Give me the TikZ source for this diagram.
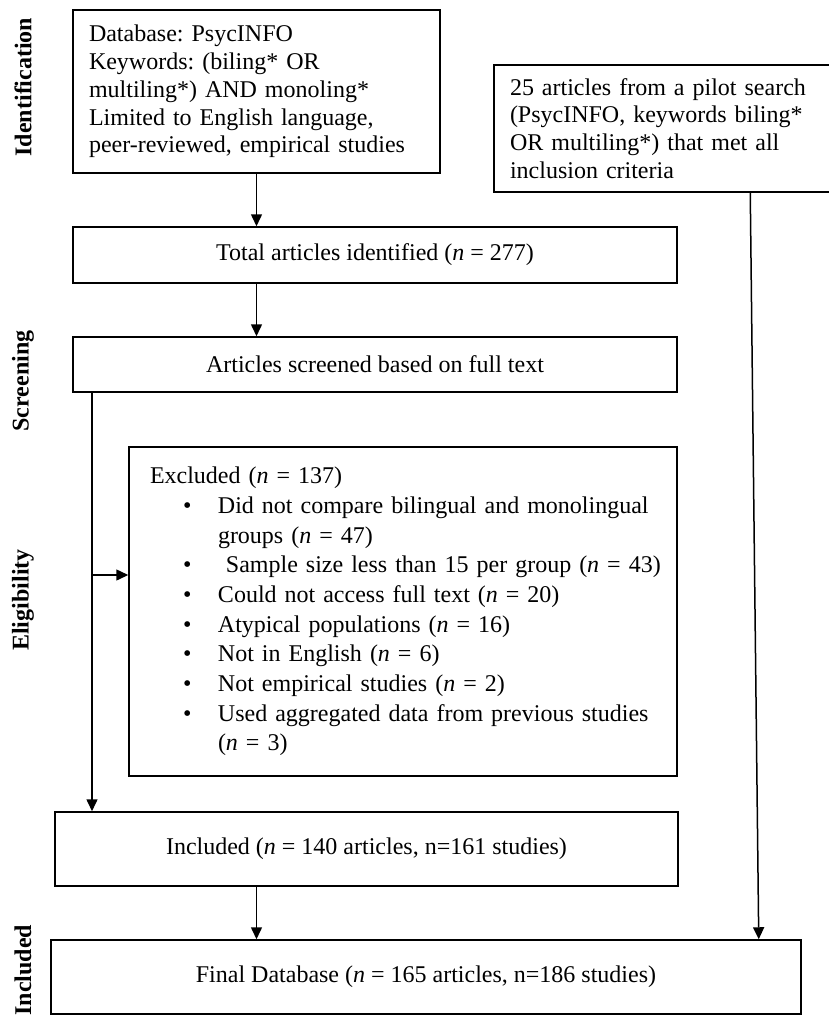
\documentclass[tikz,border=0pt]{standalone}
\usepackage{fontspec}
\setmainfont{Liberation Serif}
\usetikzlibrary{arrows.meta,calc}
\frenchspacing
\newcommand{\bul}[1]{\hspace*{50pt}\makebox[35pt][l]{\textbullet}#1}
\newcommand{\cont}[1]{\hspace*{85pt}#1}
\begin{document}
\begin{tikzpicture}[x=1pt,y=-1pt,
  box/.style={draw, line width=1.5pt, inner sep=0pt, font=\fontsize{24}{27.8}\selectfont\frenchspacing},
  conn/.style={line width=1.5pt, -{Triangle[length=12pt,width=11pt]}},
  stage/.style={rotate=90, font=\fontsize{24}{28}\selectfont\bfseries, inner sep=0pt}]
\useasboundingbox (0,0) rectangle (829,1015);

\node[box, minimum width=367, minimum height=163, inner xsep=16pt, text width=335pt, align=left] (box1) at (256.5,91.5)
 {Database: PsycINFO\\Keywords: (biling* OR\\multiling*) AND monoling*\\Limited to English language,\\peer-reviewed, empirical studies};

\node[box, minimum width=604, minimum height=56] (box2) at (375,255)
 {Total articles identified (\textit{n} = 277)};

\node[box, minimum width=604, minimum height=55] (box3) at (375,364.5)
 {Articles screened based on full text};

\node[box, minimum width=341, minimum height=127, inner xsep=16pt, text width=309pt, align=left] (pilot) at (664.5,128.5)
 {25 articles from a pilot search\\(PsycINFO, keywords biling*\\OR multiling*) that met all\\inclusion criteria};

\node[box, minimum width=548, minimum height=329, inner xsep=4pt, text width=540pt, align=left,
  font=\fontsize{24}{29.7}\selectfont\frenchspacing] (excl) at (403,611.5)
 {\hspace*{17pt}Excluded (\textit{n} = 137)\\
  \bul{Did not compare bilingual and monolingual}\\
  \cont{groups (\textit{n} = 47)}\\
  \bul{\ Sample size less than 15 per group (\textit{n} = 43)}\\
  \bul{Could not access full text (\textit{n} = 20)}\\
  \bul{Atypical populations (\textit{n} = 16)}\\
  \bul{Not in English (\textit{n} = 6)}\\
  \bul{Not empirical studies (\textit{n} = 2)}\\
  \bul{Used aggregated data from previous studies}\\
  \cont{(\textit{n} = 3)}};

\node[box, minimum width=623, minimum height=74] (incl) at (366.5,849)
 {Included (\textit{n} = 140 articles, n=161 studies)};

\node[box, minimum width=750, minimum height=74] (final) at (426,977)
 {Final Database (\textit{n} = 165 articles, n=186 studies)};

\node[stage] (lid) at (23,87) {Identification};
\node[stage] (lsc) at (23,381) {Screening};
\node[stage] (lel) at (23,600) {Eligibility};
\node[stage] (lin) at (23,970) {Included};

\coordinate (stem) at (92,575);
\draw[conn] (box1.south) -- (box2.north -| box1.south);
\draw[conn] (box2.south -| box1.south) -- (box3.north -| box1.south);
\draw[conn] (stem |- box3.south) -- (stem |- incl.north);
\draw[conn] (stem) -- (stem -| excl.west);
\draw[conn] (incl.south -| box1.south) -- (final.north -| box1.south);
\draw[conn] ($(pilot.south west)+(257,0)$) -- ($(final.north east)+(-43,0)$);
\end{tikzpicture}
\end{document}
